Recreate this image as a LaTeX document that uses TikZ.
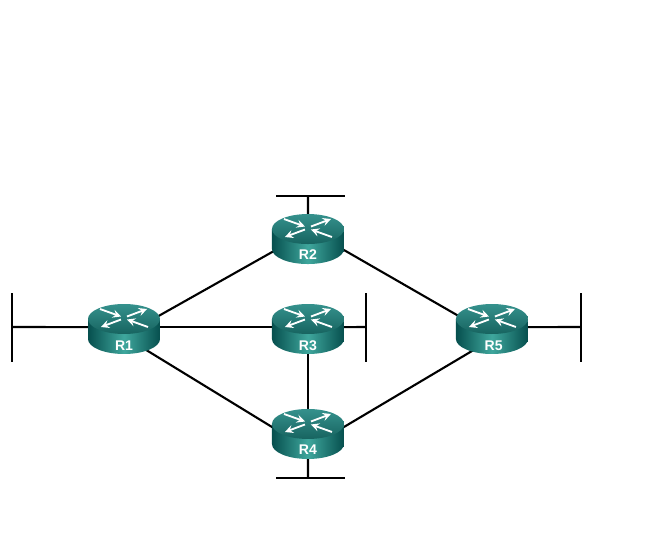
\documentclass[tikz,border=0pt]{standalone}
\usepackage{fontspec}
\setsansfont{Liberation Sans}
\usepackage{tikz}
\usetikzlibrary{arrows,calc,positioning,backgrounds}
\definecolor{routertop}{HTML}{1F8580}
\definecolor{routerdark}{HTML}{064F4E}
\definecolor{routermid}{HTML}{3FA79D}
\tikzstyle{edge}  =[line width=1.2pt, draw=black]
\tikzstyle{link}  =[edge, shorten <=-6pt, shorten >=-6pt]
\tikzstyle{stub}  =[edge, shorten <=-6pt]
\tikzstyle{router}=[rectangle, minimum width=1.44cm, minimum height=1cm,
                    inner sep=0pt, outer sep=0pt,
                    path picture={
                      \begin{scope}[shift={(path picture bounding box.center)}]
                        \shade[left color=routerdark, right color=routerdark, middle color=routermid]
                          (-36,10) -- (-36,-10) arc (180:360:36 and 15) -- (36,10) -- cycle;
                        \shade[top color=routertop!90!white, bottom color=routertop!75!black]
                          (0,10) ellipse (36 and 15);
                        \draw[routerflow] (-24,20) -- (-3,12.5);
                        \draw[routerflow] (24,2) -- (3,9.5);
                        \draw[routerflow] (3,12.5) -- (23,20);
                        \draw[routerflow] (-3,9.5) -- (-23,2);
                      \end{scope}}]
\tikzstyle{routerflow}=[white, line width=1.05pt, -stealth]
\tikzstyle{routername}=[inner sep=0pt, text=white, font=\sffamily\bfseries\fontsize{8}{8}\selectfont]
\begin{document}
\begin{tikzpicture}[x=0.02cm, y=0.02cm, node distance=1cm, on grid]
    \useasboundingbox (0,0) rectangle (653,556);
    \node (R1) [router] at (124,227) {};
    \node (R3) [router, right=3.68cm of R1] {};
    \node (R2) [router, above=1.8cm of R3] {};
    \node (R4) [router, below=2.1cm of R3] {};
    \node (R5) [router, right=3.68cm of R3] {};
    \node (l1) [routername, below=0.34cm of R1] {R1};
    \node (l2) [routername, below=0.32cm of R2] {R2};
    \node (l3) [routername, below=0.34cm of R3] {R3};
    \node (l4) [routername, below=0.32cm of R4] {R4};
    \node (l5) [routername, below=0.34cm of R5, xshift=1pt] {R5};
    % stubs
    \coordinate (s1) at (12,229);
    \coordinate (s1a) at (12,263);
    \coordinate (s1b) at (12,194);
    \coordinate (s2) at (308,360);
    \coordinate (s2a) at (276,360);
    \coordinate (s2b) at (345,360);
    \coordinate (s3) at (366,229);
    \coordinate (s3a) at (366,263);
    \coordinate (s3b) at (366,194);
    \coordinate (s4) at (308,78);
    \coordinate (s4a) at (276,78);
    \coordinate (s4b) at (345,78);
    \coordinate (s5) at (581,229);
    \coordinate (s5a) at (581,263);
    \coordinate (s5b) at (581,194);
    \begin{scope}[on background layer]
        \draw[link] (R1.21) to (R2.200);
        \draw[link] (R2.-17) to (R5.158);
        \draw[link] (R1.3) to (R3.177);
        \draw[link] (R1.-41) to (R4.169);
        \draw[link] (R4.11) to (R5.225);
        \draw[link] (R3.south) to (R4.north);
        \draw[stub] (R1.177) to (s1);
        \draw[stub] (R2.north) to (s2);
        \draw[stub] (R3.3) to (s3);
        \draw[stub] (R4.south) to (s4);
        \draw[stub] (R5.3) to (s5);
        \draw[edge] (s1a) to (s1b);
        \draw[edge] (s2a) to (s2b);
        \draw[edge] (s3a) to (s3b);
        \draw[edge] (s4a) to (s4b);
        \draw[edge] (s5a) to (s5b);
    \end{scope}
\end{tikzpicture}
\end{document}
